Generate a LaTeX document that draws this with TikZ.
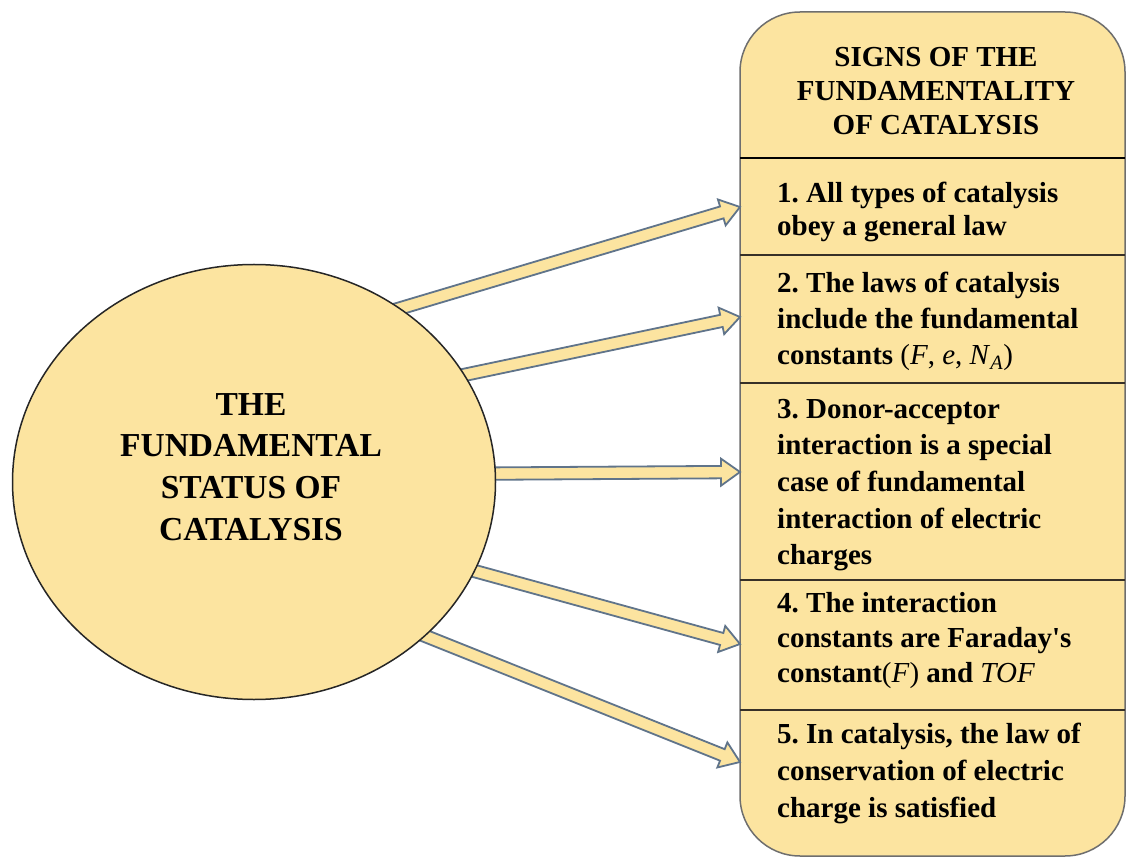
\documentclass[tikz,border=0pt]{standalone}
\usepackage{fontspec}
\setmainfont{Liberation Serif}
\usetikzlibrary{shapes.geometric,calc}
\definecolor{gold}{RGB}{252,228,160}
\definecolor{arrowline}{RGB}{96,116,138}
\definecolor{boxline}{RGB}{110,110,110}
\definecolor{divline}{RGB}{55,48,40}
\frenchspacing
\newcommand\blockarrow[2]{%
  \coordinate (bah) at ($(#2)!19pt!(#1)$);
  \path[fatarrow] ($(#1)!6.2pt!90:(#2)$) -- ($(bah)!6.2pt!-90:(#1)$) -- ($(bah)!13.5pt!-90:(#1)$) -- (#2)
     -- ($(bah)!13.5pt!90:(#1)$) -- ($(bah)!6.2pt!90:(#1)$) -- ($(#1)!6.2pt!-90:(#2)$) -- cycle;}
\newcommand\itemtext[2]{\parbox[t]{345pt}{\raggedright\fontsize{29}{#1}\selectfont\bfseries #2}}
\tikzset{
  fatarrow/.style={fill=gold, draw=arrowline, line width=1.8pt, line join=miter},
  itemnode/.style={anchor=base west, inner sep=0pt},
  divider/.style={draw=divline, line width=1.8pt},
  headdivider/.style={draw=black, line width=2.8pt}
}
\begin{document}
\begin{tikzpicture}[x=1pt,y=-1pt]
\useasboundingbox[fill=white] (0,0) rectangle (1127,858);
% right box
\node[draw=boxline, line width=1.5pt, fill=gold, rounded corners=60pt, minimum width=385pt,
      minimum height=844pt, anchor=north west, inner sep=0pt, outer sep=0pt] (box) at (740,12) {};
\draw[headdivider] (box.west |- 0,158) -- (box.east |- 0,158);
\draw[divider] (box.west |- 0,255) -- (box.east |- 0,255);
\draw[divider] (box.west |- 0,383) -- (box.east |- 0,383);
\draw[divider] (box.west |- 0,580) -- (box.east |- 0,580);
\draw[divider] (box.west |- 0,710) -- (box.east |- 0,710);
% texts in the box
\node[anchor=base, inner sep=0pt] (head) at (936,67)
  {\parbox[t]{380pt}{\centering\fontsize{29}{34}\selectfont\bfseries SIGNS OF THE\\FUNDAMENTALITY\\OF CATALYSIS}};
\node[itemnode] (i1) at (777,203) {\itemtext{32.5}{1. All types of catalysis\\obey a general law}};
\node[itemnode] (i2) at (777,293) {\itemtext{36}{2. The laws of catalysis\\include the fundamental\\constants {\mdseries(\textit{F}, \textit{e}, \textit{N}\textsubscript{\textit{A}})}}};
\node[itemnode] (i3) at (777,418) {\itemtext{36.7}{3. Donor-acceptor\\interaction is a special\\case of fundamental\\interaction of electric\\charges}};
\node[itemnode] (i4) at (777,612) {\itemtext{35}{4. The interaction\\constants are Faraday\textquotesingle s\\constant{\mdseries(\textit{F})} and {\mdseries\textit{TOF}}}};
\node[itemnode] (i5) at (777,743) {\itemtext{37}{5. In catalysis, the law of\\conservation of electric\\charge is satisfied}};
% arrow tips on the box edge
\coordinate (t1) at (740,207);
\coordinate (t2) at (740,317);
\coordinate (t3) at (740,472);
\coordinate (t4) at (740,644);
\coordinate (t5) at (740,762);
% circle anchors
\path node[ellipse, minimum width=483pt, minimum height=435pt, inner sep=0pt, outer sep=0pt] (circ) at (254,482) {};
\coordinate (s1) at ($(circ.50)!-10pt!(t1)$);
\coordinate (s2) at ($(circ.27.8)!-10pt!(t2)$);
\coordinate (s3) at ($(circ.2.4)!-10pt!(t3)$);
\coordinate (s4) at ($(circ.-22.2)!-10pt!(t4)$);
\coordinate (s5) at ($(circ.-42.7)!-10pt!(t5)$);
\blockarrow{s1}{t1}
\blockarrow{s2}{t2}
\blockarrow{s3}{t3}
\blockarrow{s4}{t4}
\blockarrow{s5}{t5}
\node[ellipse, draw=black!85, line width=1.5pt, fill=gold, minimum width=483pt, minimum height=435pt,
      inner sep=0pt, outer sep=0pt] (circdraw) at (254,482) {};
\node[anchor=base, inner sep=0pt] (ctext) at (251,415)
  {\parbox[t]{400pt}{\centering\fontsize{33.5}{41.7}\selectfont\bfseries THE\\FUNDAMENTAL\\STATUS OF\\CATALYSIS}};
\end{tikzpicture}
\end{document}
